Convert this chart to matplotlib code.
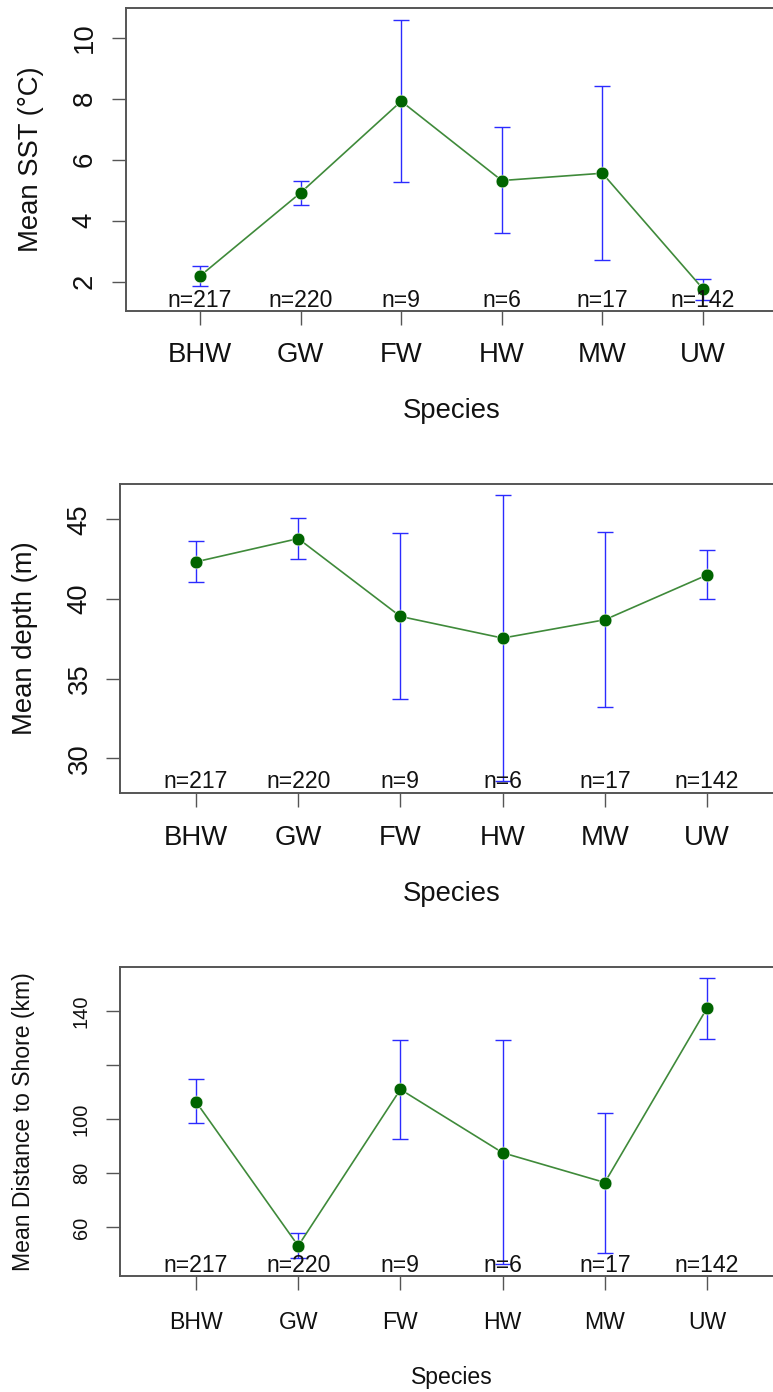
import numpy as np
import matplotlib
matplotlib.use("Agg")
import matplotlib.pyplot as plt

plt.rcParams['font.family'] = ['Liberation Sans', 'DejaVu Sans']

# Data (means with 95% CI)
species = ['BHW', 'GW', 'FW', 'HW', 'MW', 'UW']
n_obs = [217, 220, 9, 6, 17, 142]

sst_mean = [2.19, 4.92, 7.92, 5.32, 5.56, 1.77]
sst_lo = [1.86, 4.52, 5.26, 3.60, 2.71, 1.42]
sst_hi = [2.51, 5.30, 10.60, 7.08, 8.43, 2.08]

depth_mean = [42.33, 43.79, 38.90, 37.54, 38.69, 41.50]
depth_lo = [41.04, 42.50, 33.73, 28.56, 33.23, 40.00]
depth_hi = [43.65, 45.10, 44.15, 46.50, 44.23, 43.06]

dist_mean = [106.4, 53.2, 111.0, 87.6, 76.6, 141.0]
dist_lo = [98.6, 48.6, 92.8, 46.4, 50.5, 129.7]
dist_hi = [114.8, 58.1, 129.3, 129.3, 102.1, 152.1]

W, H = 773, 1392
fig = plt.figure(figsize=(W / 100, H / 100), dpi=100)


def plot_panel(box, mean, lo, hi, ylabel, yticks, yticklabels, st):
    """box = (left, right, top, bottom) in pixels, st = text settings"""
    left, right, top, bottom = box
    ax = fig.add_axes([left / W, 1 - bottom / H, (right - left) / W, (bottom - top) / H])
    x = np.arange(1, len(species) + 1)
    mean = np.array(mean)
    lo = np.array(lo)
    hi = np.array(hi)

    ax.errorbar(x, mean, yerr=[mean - lo, hi - mean], fmt='none',
                ecolor='#2b2bff', elinewidth=1.0, capsize=6, capthick=1.0, zorder=2)
    ax.plot(x, mean, '-', color='#3f8a3a', lw=1.2, zorder=3)
    ax.plot(x, mean, 'o', color='#006400', ms=9.2, mec='white', mew=0.4, zorder=4)

    # R style limits: 4% extension around the data
    ymin, ymax = lo.min(), hi.max()
    ext = 0.04 * (ymax - ymin)
    ax.set_ylim(ymin - ext, ymax + ext)
    ax.set_xlim(0.26, len(species) + 0.74)

    ax.set_xticks(x, labels=species, fontsize=st['xt'])
    ax.set_yticks(yticks, labels=yticklabels, fontsize=st['yt'], rotation=90, va='center')
    ax.tick_params(axis='x', length=10, width=1.0, pad=st['xpad'], colors='#111111')
    ax.tick_params(axis='y', length=10, width=1.0, pad=st['ypad'], colors='#111111')
    ax.tick_params(axis='both', color='#555555')

    for side in ['left', 'bottom', 'top']:
        ax.spines[side].set_color('#555555')
        ax.spines[side].set_linewidth(1.4)
    ax.spines['right'].set_visible(False)

    for xi, n in zip(x, n_obs):
        ax.text(xi, 4 / (bottom - top), 'n=%d' % n, transform=ax.get_xaxis_transform(),
                ha='center', va='baseline', fontsize=st['n'], color='#111111', zorder=5)

    ax.set_xlabel('Species', fontsize=st['lab'], color='#111111', va='baseline')
    ax.xaxis.set_label_coords(0.5, -(st['xlab_y'] - bottom) / (bottom - top))
    ax.set_ylabel(ylabel, fontsize=st['lab'], color='#111111', va='baseline',
                  ha='center', rotation_mode='anchor')
    ax.yaxis.set_label_coords((st['ylab_x'] - left) / (right - left), 0.5)
    return ax


plot_panel((125.6, 777.4, 8.3, 310.7), sst_mean, sst_lo, sst_hi,
           'Mean SST (°C)', [2, 4, 6, 8, 10], ['2', '4', '6', '8', '10'],
           dict(xt=19.8, yt=19.8, n=16.6, lab=19.8, xpad=12.7, ypad=10.2,
                xlab_y=418.0, ylab_x=38.4))

plot_panel((120.4, 782.6, 484.0, 792.5), depth_mean, depth_lo, depth_hi,
           'Mean depth (m)', [30, 35, 40, 45], ['30', '35', '40', '45'],
           dict(xt=19.8, yt=19.8, n=16.6, lab=19.8, xpad=13.2, ypad=10.0,
                xlab_y=901.4, ylab_x=32.0))

plot_panel((120.4, 782.6, 966.7, 1275.7), dist_mean, dist_lo, dist_hi,
           'Mean Distance to Shore (km)', [60, 80, 100, 120, 140], ['60', '80', '100', '', '140'],
           dict(xt=16.6, yt=14.4, n=16.6, lab=16.6, xpad=15.1, ypad=11.2,
                xlab_y=1383.7, ylab_x=30.0))

fig.savefig('out.png', dpi=100)
